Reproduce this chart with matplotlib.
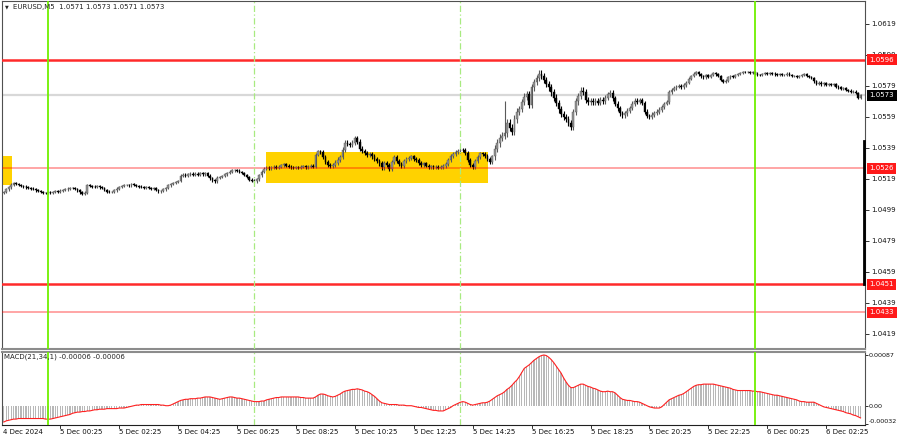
import matplotlib
matplotlib.use("Agg")
import matplotlib.pyplot as plt
import matplotlib.patches as patches
import matplotlib.transforms as mtransforms
import numpy as np

plt.rcParams['font.family'] = 'DejaVu Sans'

# EURUSD M5, bar 0 = 4 Dec 22:30, one bar every 5 minutes
# closes in pips above 1.0500
close_pips = [
    10.6, 12.2, 13.5, 15.4, 16.5, 15.9, 15.2, 14.6, 14.0, 13.5,
    13.0, 12.8, 12.3, 11.6, 11.0, 10.5, 10.2, 10.0, 10.4, 9.8,
    10.5, 11.0, 10.8, 11.5, 12.0, 12.2, 12.8, 13.3, 13.0, 12.5,
    11.6, 10.4, 9.6, 10.2, 15.0, 14.6, 14.0, 13.8, 14.2, 13.5,
    13.0, 11.8, 10.9, 10.4, 10.8, 11.6, 12.8, 13.6, 14.4, 15.0,
    15.3, 14.8, 15.5, 15.0, 14.6, 14.1, 13.6, 13.2, 13.8, 13.0,
    12.4, 12.9, 11.8, 11.0, 11.3, 12.2, 13.4, 14.8, 15.6, 16.5,
    17.0, 17.6, 21.0, 21.8, 21.2, 22.0, 22.5, 21.6, 22.3, 21.8,
    22.6, 22.0, 22.8, 21.2, 19.5, 18.2, 17.6, 19.8, 20.4, 21.0,
    22.0, 23.0, 23.8, 24.5, 24.9, 24.4, 23.6, 23.0, 21.5, 20.2,
    18.6, 17.8, 17.5, 19.0, 21.5, 23.8, 25.5, 26.2, 25.8, 26.4,
    26.8, 26.3, 27.0, 27.8, 28.5, 27.6, 27.0, 26.4, 26.0, 26.6,
    26.2, 26.8, 27.2, 26.6, 26.9, 27.5, 27.0, 34.5, 37.0, 36.2,
    33.0, 29.8, 28.0, 27.2, 27.8, 29.5, 31.5, 33.2, 38.0, 42.5,
    41.5, 40.8, 42.5, 45.2, 43.0, 38.5, 37.0, 35.8, 34.5, 35.2,
    33.5, 32.0, 30.5, 29.0, 26.5, 29.5, 28.0, 25.5, 30.0, 33.0,
    30.5, 28.5, 27.5, 30.5, 31.8, 32.5, 33.5, 32.0, 31.0, 29.5,
    28.0, 29.2, 27.5, 26.8, 27.2, 26.5, 27.0, 26.2, 26.8, 27.5,
    28.5, 31.0, 33.5, 35.0, 36.2, 37.0, 37.8, 37.4, 36.0, 31.5,
    28.0, 26.5, 30.5, 33.0, 35.5, 35.0, 34.0, 32.0, 30.2, 33.5,
    38.5, 42.0, 45.5, 47.0, 48.5, 55.0, 52.0, 49.5, 57.5, 62.0,
    64.0, 68.5, 72.0, 73.5, 67.0, 78.0, 81.5, 84.0, 87.0, 85.5,
    83.0, 80.5, 78.0, 75.0, 71.5, 68.0, 64.0, 61.0, 59.0, 57.8,
    55.0, 52.8, 62.0, 69.0, 72.5, 76.0, 75.0, 70.0, 68.5, 69.5,
    68.5, 69.5, 68.0, 70.0, 69.0, 71.5, 73.5, 74.5, 71.0, 67.5,
    64.5, 61.5, 60.0, 61.5, 63.0, 64.8, 67.5, 69.5, 68.8, 70.0,
    68.0, 62.5, 59.5, 59.0, 60.5, 61.5, 62.5, 63.8, 65.5, 67.5,
    68.5, 75.0, 76.5, 77.5, 78.5, 79.0, 78.2, 79.6, 81.0, 83.5,
    85.5, 87.0, 88.0, 86.5, 85.2, 84.6, 85.8, 84.8, 86.0, 87.2,
    86.5, 85.5, 83.0, 81.8, 82.5, 84.5, 85.5, 85.0, 86.2, 86.8,
    87.5, 88.0, 87.8, 88.2, 87.6, 88.0, 87.0, 86.2, 85.8, 86.8,
    87.2, 86.5, 87.6, 87.0, 86.4, 86.0, 86.8, 85.9, 86.3, 87.0,
    85.8, 85.2, 85.6, 84.8, 85.4, 86.0, 86.6, 85.5, 85.0, 84.2,
    82.0, 80.5, 81.2, 80.0, 80.6, 79.8, 80.4, 79.5, 80.0, 78.6,
    78.0, 77.2, 77.6, 76.5, 76.0, 75.2, 75.4, 74.2, 71.0, 73.0,
]
first_open_pips = 10.0
# typical wick length (pips) for each block of 10 bars
wick_up_pips = [0.8, 0.7, 0.7, 0.8, 0.7, 0.7, 0.7, 0.9, 0.8, 0.8,
                0.9, 0.9, 1.0, 1.5, 1.5, 1.3, 1.2, 1.0, 1.3, 1.2,
                2.5, 2.2, 2.0, 2.0, 1.6, 1.5, 1.4, 1.2, 0.8, 0.8,
                0.7, 0.7, 0.7, 0.8, 0.8]
wick_dn_pips = [0.8, 0.7, 0.7, 0.9, 0.7, 0.7, 0.8, 0.8, 0.9, 0.8,
                1.0, 0.9, 1.0, 1.4, 1.5, 1.5, 1.2, 1.1, 1.3, 1.4,
                2.2, 2.0, 2.2, 2.0, 1.5, 1.6, 1.5, 1.0, 0.8, 0.8,
                0.7, 0.7, 0.7, 0.8, 0.7]
high_override_pips = {204: 69.0}

# MACD(21,34,1) main line, units of 1e-5
macd_e5 = [
    -28, -26, -25, -24, -23, -23, -22, -22, -22, -22,
    -22, -22, -22, -22, -22, -22, -22, -23, -23, -23,
    -22, -21, -20, -19, -18, -17, -16, -15, -13, -12,
    -11, -11, -10, -10, -9, -9, -8, -7, -7, -6,
    -6, -6, -5, -5, -5, -5, -5, -4, -4, -4,
    -3, -2, -1, 0, 1, 1, 2, 2, 2, 2,
    2, 2, 2, 2, 1, 1, 0, 0, 1, 3,
    5, 7, 9, 10, 11, 11, 12, 12, 12, 13,
    13, 14, 15, 15, 15, 14, 13, 12, 11, 12,
    13, 14, 15, 15, 14, 13, 13, 12, 11, 10,
    9, 8, 7, 7, 7, 8, 8, 10, 11, 12,
    13, 14, 14, 15, 15, 15, 15, 15, 15, 15,
    15, 14, 14, 13, 13, 13, 13, 15, 18, 20,
    20, 19, 17, 16, 15, 16, 18, 20, 23, 25,
    26, 27, 28, 28, 29, 28, 27, 25, 24, 22,
    19, 16, 12, 8, 5, 4, 3, 2, 2, 2,
    2, 1, 1, 1, 0, 0, 0, -1, -2, -3,
    -3, -4, -5, -6, -7, -8, -8, -9, -9, -9,
    -7, -5, -3, 0, 2, 4, 6, 7, 6, 4,
    2, 1, 2, 3, 4, 5, 5, 6, 8, 11,
    14, 17, 19, 21, 24, 28, 31, 35, 40, 44,
    50, 57, 64, 67, 70, 74, 78, 81, 84, 86,
    87, 86, 83, 79, 74, 68, 62, 56, 48, 41,
    35, 31, 31, 33, 35, 37, 37, 35, 33, 32,
    30, 29, 27, 25, 24, 24, 25, 24, 24, 22,
    18, 14, 11, 10, 9, 9, 8, 7, 7, 6,
    4, 2, 0, -2, -3, -4, -4, -4, -2, 2,
    6, 10, 12, 14, 16, 18, 19, 21, 24, 27,
    30, 33, 35, 36, 36, 37, 37, 37, 37, 37,
    36, 35, 34, 33, 32, 31, 30, 28, 27, 26,
    26, 26, 26, 26, 26, 25, 25, 24, 24, 23,
    22, 21, 20, 19, 18, 18, 17, 16, 15, 14,
    13, 12, 11, 10, 8, 7, 7, 6, 6, 6,
    6, 4, 2, 0, -2, -3, -4, -5, -6, -7,
    -8, -9, -10, -12, -13, -14, -16, -17, -19, -21,
]

price_ticks = [1.0619, 1.0599, 1.0579, 1.0559, 1.0539, 1.0519,
               1.0499, 1.0479, 1.0459, 1.0439, 1.0419]
levels_strong = [1.0596, 1.0451]
levels_weak = [1.0526, 1.0433]
last_price = 1.0573
# yellow range boxes: (first bar, last bar, low, high)
range_boxes = [(-6.0, 3.3, 1.05151, 1.05338), (106.8, 197.2, 1.05164, 1.05364)]
day_bars = [18, 306]          # 5 Dec 00:00, 6 Dec 00:00
session_bars = [102, 186]     # 07:00, 14:00
xlabel_bars = [23, 47, 71, 95, 119, 143, 167, 191, 215, 239, 263, 287, 311, 335]
xlabels = ["5 Dec 00:25", "5 Dec 02:25", "5 Dec 04:25", "5 Dec 06:25",
           "5 Dec 08:25", "5 Dec 10:25", "5 Dec 12:25", "5 Dec 14:25",
           "5 Dec 16:25", "5 Dec 18:25", "5 Dec 20:25", "5 Dec 22:25",
           "6 Dec 00:25", "6 Dec 02:25"]
macd_ticks = [0.00087, 0.0, -0.00032]
macd_ticklabels = ["0.00087", "0.00", "-0.00032"]

W, H = 900, 441
fig = plt.figure(figsize=(W / 100, H / 100), dpi=100)
fig.patch.set_facecolor('white')

ax = fig.add_axes([2 / W, 1 - 349 / H, 863 / W, 348 / H])
axm = fig.add_axes([2 / W, 1 - 425 / H, 863 / W, 73 / H])

n = len(close_pips)
x = np.arange(n)
c = 1.05 + np.array(close_pips) / 1e4
o = np.concatenate([[1.05 + first_open_pips / 1e4], c[:-1]])
up = np.repeat(wick_up_pips, 10)[:n] / 1e4
dn = np.repeat(wick_dn_pips, 10)[:n] / 1e4
hi = np.maximum(o, c) + up
lo = np.minimum(o, c) - dn
for k, v in high_override_pips.items():
    hi[k] = 1.05 + v / 1e4
bull = c >= o
bot = np.minimum(o, c)
bh = np.maximum(np.abs(c - o), 0.000018)

# boxes and lines
for x0, x1, y0, y1 in range_boxes:
    ax.add_patch(patches.Rectangle((x0, y0), x1 - x0, y1 - y0,
                                   facecolor='#ffd200', edgecolor='none', zorder=1))
ax.axhline(last_price, color='#d8d8d8', lw=1.6, zorder=1.5)

ax.vlines(x[bull], lo[bull], hi[bull], color='#5a5a5a', lw=0.8, zorder=3)
ax.vlines(x[~bull], lo[~bull], hi[~bull], color='black', lw=0.8, zorder=3)
ax.bar(x[bull], bh[bull], bottom=bot[bull], width=0.72, color='#949494',
       edgecolor='#555555', linewidth=0.3, zorder=3.2)
ax.bar(x[~bull], bh[~bull], bottom=bot[~bull], width=0.72, color='black',
       edgecolor='black', linewidth=0.3, zorder=3.2)

for lv in levels_strong:
    ax.axhline(lv, color='#ff2a2a', lw=1.8, zorder=4)
for lv in levels_weak:
    ax.axhline(lv, color='red', lw=1.3, alpha=0.38, zorder=4)

for a in (ax, axm):
    for b in day_bars:
        a.axvline(b, color='#70f000', lw=1.3, zorder=5)
    for b in session_bars:
        a.axvline(b, color='#a8ea80', lw=0.9, ls=(0, (5, 2, 1, 2)), zorder=5)
    a.set_xlim(-0.73, 350.8)
    a.set_xticks([])
    a.set_facecolor('white')

ax.set_ylim(1.04093, 1.06338)
ax.yaxis.set_ticks_position('right')
ax.set_yticks(price_ticks)
ax.set_yticklabels([f"{t:.4f}" for t in price_ticks])
ax.tick_params(axis='y', labelsize=5, length=3, width=0.6, pad=1.5, colors='#111111')

for lv in levels_strong + levels_weak:
    ax.text(1.0052, lv, f"{lv:.4f}", transform=ax.get_yaxis_transform(),
            fontsize=5, color='white', va='center', ha='left', zorder=10, clip_on=False,
            bbox=dict(boxstyle='square,pad=0.35', fc='#ff1a1a', ec='none'))
ax.text(1.0052, last_price, f"{last_price:.4f}", transform=ax.get_yaxis_transform(),
        fontsize=5, color='white', va='center', ha='left', zorder=10, clip_on=False,
        bbox=dict(boxstyle='square,pad=0.35', fc='black', ec='none'))

# dark marker on right edge of the price panel
ax.plot([0.9988, 0.9988], [1.05435, 1.0451], transform=ax.get_yaxis_transform(),
        color='black', lw=2, clip_on=False, zorder=6)

# MACD
macd = np.array(macd_e5) / 1e5
axm.bar(x, macd, width=0.5, color='#b8b8b8', zorder=2)
axm.plot(x, macd, color='#ff2020', lw=0.8, zorder=3)
axm.set_ylim(-0.000331, 0.000921)
axm.yaxis.set_ticks_position('right')
axm.set_yticks(macd_ticks)
axm.set_yticklabels(macd_ticklabels)
axm.tick_params(axis='y', labelsize=4.6, length=2, width=0.6, pad=0.8, colors='#111111')
axm.get_yticklabels()[2].set_verticalalignment('bottom')

for s in ax.spines.values():
    s.set_color('#505050')
    s.set_linewidth(0.8)
ax.spines['bottom'].set_color('#8c8c8c')
ax.spines['bottom'].set_linewidth(1.5)
for s in axm.spines.values():
    s.set_color('#505050')
    s.set_linewidth(0.8)
axm.spines['top'].set_color('#8c8c8c')
axm.spines['top'].set_linewidth(1.5)
axm.spines['bottom'].set_color('#202020')

# time labels under the MACD panel
tr = mtransforms.blended_transform_factory(axm.transData, fig.transFigure)
fig.text(3 / W, 1 - 432 / H, "4 Dec 2024", fontsize=5, va='center', ha='left', color='#111111')
for b, lab in zip(xlabel_bars, xlabels):
    fig.text(b, 1 - 432 / H, lab, transform=tr, fontsize=5, va='center', ha='left',
             color='#111111')
    axm.plot([b, b], [1 - 425 / H, 1 - 428 / H], transform=tr, color='#111111',
             lw=0.6, clip_on=False)

fig.text(4.5 / W, 1 - 7 / H, "\u25bc", fontsize=3.5, va='center', ha='left', color='#222222')
fig.text(13 / W, 1 - 7 / H, "EURUSD,M5  1.0571 1.0573 1.0571 1.0573", fontsize=5,
         va='center', ha='left', color='#222222')
fig.text(4 / W, 1 - 357 / H, "MACD(21,34,1) -0.00006 -0.00006", fontsize=5,
         va='center', ha='left', color='#222222')

fig.savefig("out.png", dpi=100)
